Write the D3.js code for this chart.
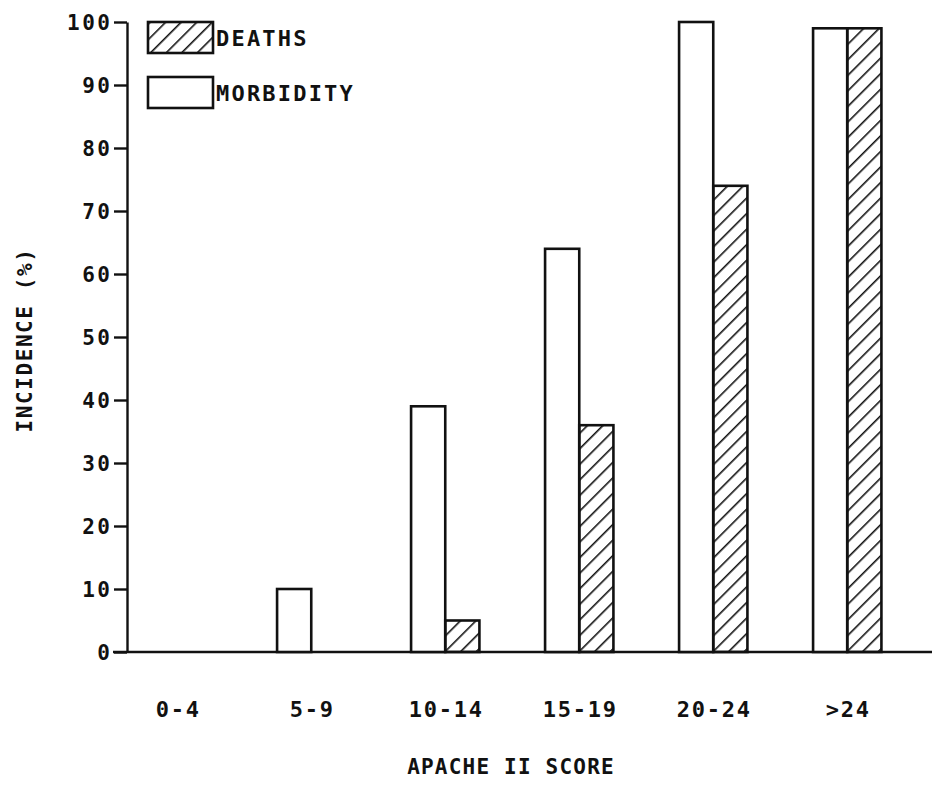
<!DOCTYPE html>
<html>
<head>
<meta charset="utf-8">
<script src="https://cdn.jsdelivr.net/npm/d3@7"></script>
<style>
  html, body { margin: 0; padding: 0; background: #fff; }
  svg { display: block; }
  text { font-family: "DejaVu Sans Mono", "Liberation Mono", monospace; font-weight: bold; fill: #111; }
</style>
</head>
<body>
<svg id="chart" width="936" height="785"></svg>
<script>
// APACHE II score bands and incidence (%) per band
const categories = ["0-4", "5-9", "10-14", "15-19", "20-24", ">24"];
const morbidity = [0, 10, 39, 64, 100, 99];
const deaths = [0, 0, 5, 36, 74, 99];
const yTicks = [0, 10, 20, 30, 40, 50, 60, 70, 80, 90, 100];
const seriesNames = ["MORBIDITY", "DEATHS"];

const svg = d3.select("#chart");
const ink = "#111";

// hatch used for the deaths bars
const defs = svg.append("defs");
defs.append("pattern")
  .attr("id", "hatch")
  .attr("patternUnits", "userSpaceOnUse")
  .attr("width", 11).attr("height", 11)
  .attr("patternTransform", "rotate(45)")
  .append("line")
  .attr("x1", 0).attr("y1", 0).attr("x2", 0).attr("y2", 11)
  .attr("stroke", ink).attr("stroke-width", 3.2);

const y = d3.scaleLinear().domain([0, 100]).range([652, 22]);
const x = d3.scaleBand().domain(categories).range([127, 897.5])
  .paddingInner(0.49).paddingOuter(0.12);
const xs = d3.scaleBand().domain(seriesNames).range([0, x.bandwidth()]);

// y axis
const yAxis = svg.append("g")
  .attr("transform", "translate(127,0)")
  .call(d3.axisLeft(y).tickValues(yTicks).tickSize(13).tickSizeOuter(0).tickPadding(4));
yAxis.select(".domain").attr("stroke", ink).attr("stroke-width", 2.4);
yAxis.selectAll(".tick line").attr("stroke", ink).attr("stroke-width", 2.4);
yAxis.selectAll(".tick text")
  .attr("font-size", 21)
  .attr("letter-spacing", 2.5)
  .attr("dx", 2.5)
  .attr("dy", "0.36em")
  .attr("fill", ink)
  .style("font-family", "'DejaVu Sans Mono', monospace")
  .style("font-weight", "bold");

// baseline
svg.append("line")
  .attr("x1", 113).attr("x2", 932)
  .attr("y1", y(0)).attr("y2", y(0))
  .attr("stroke", ink).attr("stroke-width", 2.4);

// bars
const rows = categories.map((c, i) => ({ c, vals: [
  { s: "MORBIDITY", v: morbidity[i] },
  { s: "DEATHS", v: deaths[i] }
]}));

const groups = svg.append("g").selectAll("g")
  .data(rows).join("g")
  .attr("transform", d => `translate(${x(d.c)},0)`);

groups.selectAll("rect")
  .data(d => d.vals.filter(e => e.v > 0))
  .join("rect")
  .attr("x", e => xs(e.s))
  .attr("width", xs.bandwidth())
  .attr("y", e => y(e.v))
  .attr("height", e => y(0) - y(e.v))
  .attr("fill", e => e.s === "DEATHS" ? "url(#hatch)" : "#fff")
  .attr("stroke", ink)
  .attr("stroke-width", 2.6);

// category labels
svg.append("g").selectAll("text")
  .data(categories).join("text")
  .attr("x", d => x(d) + x.bandwidth() / 2 + 1)
  .attr("y", 717)
  .attr("text-anchor", "middle")
  .attr("font-size", 22)
  .attr("letter-spacing", 1.8)
  .text(d => d);

// axis titles
svg.append("text")
  .attr("x", 511).attr("y", 774)
  .attr("text-anchor", "middle")
  .attr("font-size", 21)
  .attr("letter-spacing", 1.2)
  .text("APACHE II SCORE");

svg.append("text")
  .attr("transform", "translate(32,340) rotate(-90)")
  .attr("text-anchor", "middle")
  .attr("font-size", 21)
  .attr("letter-spacing", 1.6)
  .text("INCIDENCE (%)");

// legend
const legend = [
  { name: "DEATHS", fill: "url(#hatch)", y0: 22 },
  { name: "MORBIDITY", fill: "#fff", y0: 77 }
];
const lg = svg.append("g").selectAll("g").data(legend).join("g");
lg.append("rect")
  .attr("x", 148).attr("y", d => d.y0)
  .attr("width", 65).attr("height", 31)
  .attr("fill", d => d.fill)
  .attr("stroke", ink).attr("stroke-width", 2.6);
lg.append("text")
  .attr("x", 216).attr("y", d => d.y0 + 24)
  .attr("font-size", 22)
  .attr("letter-spacing", 2.2)
  .text(d => d.name);
</script>
</body>
</html>
